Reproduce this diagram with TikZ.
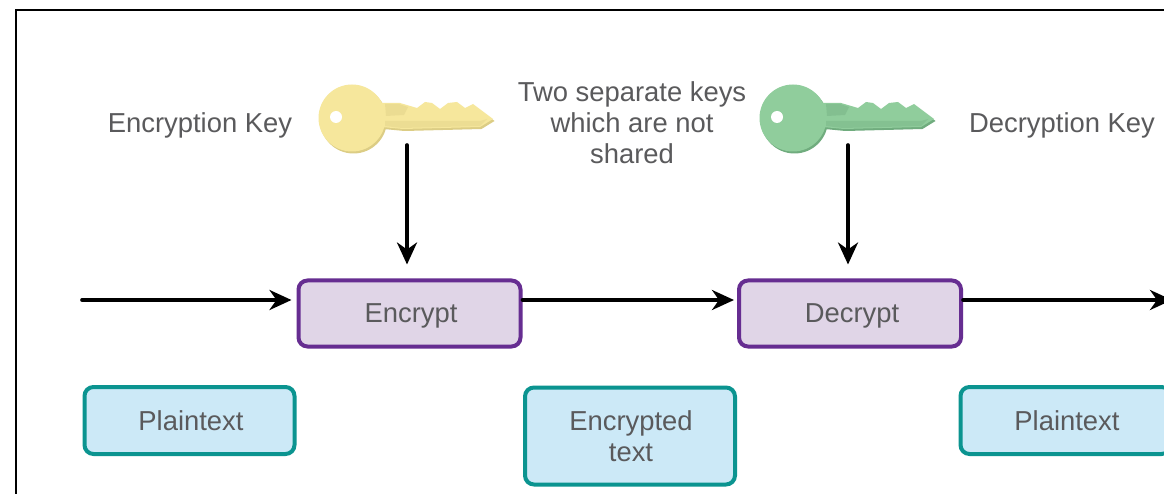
\documentclass[tikz,border=0pt]{standalone}
\usepackage{fontspec}
\setmainfont{Liberation Sans}
\usetikzlibrary{arrows.meta}
\definecolor{txt}{HTML}{5A5A5C}
\definecolor{purp}{HTML}{662D91}
\definecolor{purpf}{HTML}{E0D5E7}
\definecolor{teal1}{HTML}{0B9490}
\definecolor{tealf}{HTML}{CCE9F7}
\definecolor{ykey}{HTML}{F6E79C}
\definecolor{ykeyd}{HTML}{DCCD85}
\definecolor{gkey}{HTML}{90CD9C}
\definecolor{gkeyd}{HTML}{70AC7E}
\newcommand{\keyoutline}{%
  (0,0) circle[radius=33.5]
  (30,-15) -- (48,-15) -- (65,-10) -- (73,-16) -- (80,-15) -- (88,-9) -- (96,-15) -- (105,-16) -- (113,-10) -- (121,-14) -- (141,1) -- (128,9) -- (51,11) -- (30,9) -- cycle}
\newcommand{\drawkey}[4]{% x, y, main, dark
  \begin{scope}[shift={(#1,#2)}]
    \begin{scope}[shift={(1.5,2)}]
      \fill[#4] \keyoutline;
    \end{scope}
    \fill[#3] \keyoutline;
    \fill[#4,opacity=.4] (33,-14) -- (47,-14) -- (56,-11) -- (52,-3) -- (34,-2) -- cycle;
    \fill[#4,opacity=.35] (33,3) -- (128,3) -- (135,1) -- (128,8) -- (50,10) -- (33,8) -- cycle;
    \fill[white] (-16,-1) circle[radius=6];
  \end{scope}}
\tikzset{
  x=1pt,y=-1pt,
  label/.style={font=\fontsize{27.4}{31}\selectfont,text=txt,align=center,inner sep=0pt},
  opbox/.style={draw=purp,fill=purpf,line width=4pt,rounded corners=9pt,minimum width=222pt,minimum height=66pt,inner sep=0pt},
  databox/.style={draw=teal1,fill=tealf,line width=4pt,rounded corners=9pt,minimum width=210pt,inner sep=0pt},
  flow/.style={line width=3.6pt,draw=black,line cap=round,-{Stealth[length=22pt,width=20pt,inset=7pt]}}
}
\begin{document}
\begin{tikzpicture}
\clip (0,0) rectangle (1164,494);
\fill[white] (0,0) rectangle (1164,494);
\draw[black,line width=2pt] (15.5,500) -- (15.5,10) -- (1170,10);

\drawkey{352}{118}{ykey}{ykeyd}
\drawkey{793}{118}{gkey}{gkeyd}

\node[label] (enckey) at (200,125) {Encryption Key};
\node[label] (deckey) at (1062,125) {Decryption Key};
\node[label] (sep) at (632,122.5) {Two separate keys\\which are not\\shared};

\node[opbox] (enc) at (409.5,313.5) {};
\node[opbox] (dec) at (850,313.5) {};
\node[label] (enct) at (411,316) {Encrypt};
\node[label] (dect) at (852,316) {Decrypt};

\node[databox,minimum height=67pt] (pt1) at (189.5,420.5) {};
\node[databox,minimum height=97pt] (ct) at (630,436) {};
\node[databox,minimum height=67pt] (pt2) at (1065.5,420.5) {};
\node[label] (pt1t) at (191,421) {Plaintext};
\node[label] (ctt) at (631,436) {Encrypted\\text};
\node[label] (pt2t) at (1067,421) {Plaintext};

\coordinate (in) at (82,300);
\coordinate (out) at (1172,300);
\coordinate (k1) at (407,145);
\coordinate (k2) at (848,145);

\draw[flow] (in) -- ([xshift=-5pt]enc.west |- in);
\draw[flow] (enc.east |- in) -- ([xshift=-3pt]dec.west |- in);
\draw[flow] (dec.east |- in) -- (out);
\draw[flow] (k1) -- ([yshift=14pt]k1 |- enc.north);
\draw[flow] (k2) -- ([yshift=14pt]k2 |- dec.north);
\end{tikzpicture}
\end{document}
